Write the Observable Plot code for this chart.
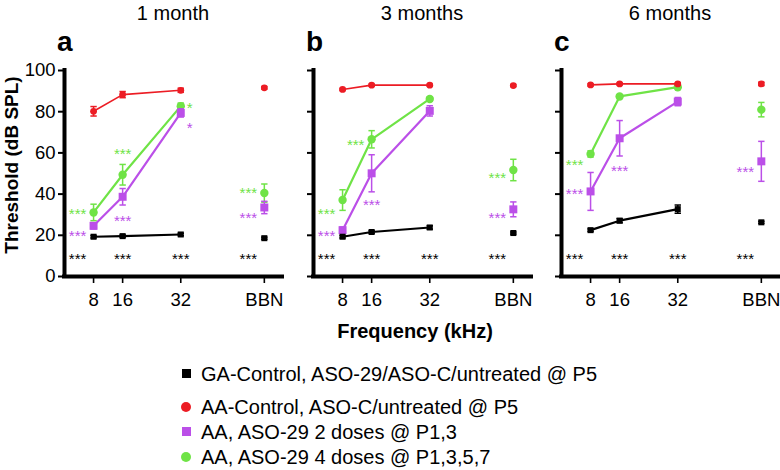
<!DOCTYPE html>
<html><head><meta charset="utf-8">
<script src="https://cdn.jsdelivr.net/npm/d3@7"></script>
<script src="https://cdn.jsdelivr.net/npm/@observablehq/plot@0.6"></script>
<style>
body{margin:0;background:#fff;}
#wrap{position:relative;width:780px;height:470px;overflow:hidden;font-family:"Liberation Sans",Arial,Helvetica,sans-serif;color:#000;}
.abs{position:absolute;white-space:nowrap;line-height:1;}
.panel{position:absolute;top:0;}
</style></head><body>
<div id="wrap"></div>
<script>
// ---------- data ----------
const panelTitles = ["1 month", "3 months", "6 months"];
const panelLetters = ["a", "b", "c"];
const freqKeys = ["8", "16", "32", "BBN"];
const freqPos = [8, 16, 32, 55];
const yTicks = [0, 20, 40, 60, 80, 100];

const seriesKeys = ["ga", "aa", "aso2", "aso4"];
const seriesLabels = [
  "GA-Control, ASO-29/ASO-C/untreated @ P5",
  "AA-Control, ASO-C/untreated @ P5",
  "AA, ASO-29 2 doses @ P1,3",
  "AA, ASO-29 4 doses @ P1,3,5,7"
];
const seriesColors = ["#000000", "#ec1c24", "#bb4fe8", "#6fe346"];
const seriesSymbols = ["square", "circle", "square", "circle"];

// mean thresholds [8, 16, 32, BBN] per panel
const gaMean   = [[19.3, 19.6, 20.4, 18.6], [19.3, 21.6, 23.8, 21.1], [22.5, 27.1, 32.7, 26.3]];
const gaSem    = [[0.6, 0.6, 0.6, 0.5], [0.6, 0.6, 0.8, 0.5], [0.6, 1.0, 2.0, 0.5]];
const aaMean   = [[80.2, 88.3, 90.4, 91.6], [90.8, 92.9, 92.9, 92.7], [93.0, 93.5, 93.5, 93.5]];
const aaSem    = [[2.3, 1.5, 1.0, 0.6], [0.5, 0.5, 0.5, 0.5], [0.5, 0.5, 0.5, 0.8]];
const aso2Mean = [[24.6, 38.7, 79.4, 33.5], [22.5, 50.1, 80.4, 32.6], [41.3, 67.1, 84.9, 55.9]];
const aso2Sem  = [[1.5, 4.0, 2.0, 3.0], [1.5, 9.0, 2.5, 3.6], [9.2, 8.6, 2.0, 9.7]];
const aso4Mean = [[31.1, 49.4, 82.7, 40.5], [37.1, 66.6, 86.2, 51.7], [59.5, 87.4, 91.9, 81.0]];
const aso4Sem  = [[4.0, 5.0, 1.5, 4.4], [5.0, 4.2, 1.0, 5.2], [1.5, 0.8, 0.8, 3.5]];

// significance annotations
const starPanel  = [0,0,0,0, 0,0,0,0, 0,0,0,0, 1,1,1,1, 1,1,1, 1,1,1, 2,2,2,2, 2, 2,2,2];
const starFreq   = ["8","16","32","BBN", "8","16","32","BBN", "8","16","32","BBN",
                    "8","16","32","BBN", "8","16","BBN", "8","16","BBN",
                    "8","16","32","BBN", "8", "8","16","BBN"];
const starLevel  = [10.4,10.4,10.4,10.4, 32.4,61.4,83.6,42.5, 21.4,28.7,74.0,30.3,
                    10.4,10.4,10.4,10.4, 32.4,65.6,49.6, 21.4,36.8,30.3,
                    10.4,10.4,10.4,10.4, 56.2, 42.0,53.3,52.5];
const starText   = ["***","***","***","***", "***","***","*","***", "***","***","*","***",
                    "***","***","***","***", "***","***","***", "***","***","***",
                    "***","***","***","***", "***", "***","***","***"];
const starSeries = ["ga","ga","ga","ga", "aso4","aso4","aso4","aso4", "aso2","aso2","aso2","aso2",
                    "ga","ga","ga","ga", "aso4","aso4","aso4", "aso2","aso2","aso2",
                    "ga","ga","ga","ga", "aso4", "aso2","aso2","aso2"];
const starSide   = ["left","center","center","left", "left","center","right","left", "left","center","right","left",
                    "left","center","center","left", "left","left","left", "left","center","left",
                    "left","center","center","left", "left", "left","center","left"];

// ---------- build tables ----------
const means = {ga: gaMean, aa: aaMean, aso2: aso2Mean, aso4: aso4Mean};
const sems = {ga: gaSem, aa: aaSem, aso2: aso2Sem, aso4: aso4Sem};
const rows = [];
seriesKeys.forEach((s) => {
  panelTitles.forEach((_, p) => {
    freqKeys.forEach((k, i) => {
      const m = means[s][p][i], e = sems[s][p][i];
      rows.push({series: s, panel: p, key: k, x: freqPos[i], y: m, lo: m - e, hi: m + e});
    });
  });
});
const stars = starPanel.map((p, i) => ({
  panel: p, x: freqPos[freqKeys.indexOf(starFreq[i])], y: starLevel[i],
  text: starText[i], series: starSeries[i], side: starSide[i]
}));
const colorOf = (s) => seriesColors[seriesKeys.indexOf(s)];

const capSymbol = {draw(ctx, size) { const w = Math.sqrt(size) / 2; ctx.moveTo(-w, 0); ctx.lineTo(w, 0); }};

const style = {
  ga:   {r: 3.4, lw: 2.2},
  aa:   {r: 3.4, lw: 1.6},
  aso2: {r: 4.5, lw: 2.2},
  aso4: {r: 4.2, lw: 2.2}
};
const drawOrder = ["aso4", "aso2", "ga", "aa"];

function panel(p) {
  const data = rows.filter(d => d.panel === p);
  const marks = [
    Plot.axisY({ticks: yTicks, tickSize: 6, tickPadding: 3, strokeWidth: 2,
      tickFormat: p === 0 ? (d => String(d)) : (() => ""), label: null}),
    Plot.axisX({ticks: freqPos, tickSize: 7, tickPadding: 9, strokeWidth: 1.6,
      tickFormat: d => freqKeys[freqPos.indexOf(d)], label: null}),
    Plot.ruleX([0], {strokeWidth: 4, strokeLinecap: "square"}),
    Plot.ruleY([0], {strokeWidth: 4, strokeLinecap: "square"})
  ];
  for (const s of drawOrder) {
    const d = data.filter(r => r.series === s);
    const c = colorOf(s);
    const sym = seriesSymbols[seriesKeys.indexOf(s)];
    marks.push(
      Plot.line(d.filter(r => r.key !== "BBN"), {x: "x", y: "y", stroke: c, strokeWidth: style[s].lw}),
      Plot.link(d, {x1: "x", x2: "x", y1: "lo", y2: "hi", stroke: c, strokeWidth: 1.5}),
      Plot.dot(d, {x: "x", y: "hi", symbol: capSymbol, r: 3.6, stroke: c, strokeWidth: 1.5, fill: "none"}),
      Plot.dot(d, {x: "x", y: "lo", symbol: capSymbol, r: 3.6, stroke: c, strokeWidth: 1.5, fill: "none"}),
      Plot.dot(d, {x: "x", y: "y", symbol: sym, r: style[s].r, fill: c, stroke: "none"})
    );
  }
  const st = stars.filter(d => d.panel === p);
  for (const side of ["left", "center", "right"]) {
    const dx = side === "left" ? -16 : side === "right" ? 9 : 0;
    marks.push(Plot.text(st.filter(d => d.side === side), {
      x: "x", y: "y", text: "text", fill: d => colorOf(d.series), dx, dy: 4,
      fontSize: 15, textAnchor: "middle"
    }));
  }
  return Plot.plot({
    width: 286, height: 316,
    marginLeft: 64, marginRight: 4, marginTop: 70, marginBottom: 40,
    x: {type: "linear", domain: [0, 60]},
    y: {type: "linear", domain: [0, 100]},
    color: {type: "identity"},
    style: {fontFamily: '"Liberation Sans", Arial, Helvetica, sans-serif', fontSize: "18.5px", color: "#000", background: "none", overflow: "visible"},
    marks
  });
}

const wrap = document.getElementById("wrap");
const panelLeft = [0, 249, 497];
panelTitles.forEach((t, p) => {
  const el = panel(p);
  el.classList.add("panel");
  el.style.left = panelLeft[p] + "px";
  wrap.appendChild(el);
  const title = document.createElement("div");
  title.className = "abs";
  title.textContent = t;
  title.style.cssText += `left:${panelLeft[p] + 173}px;top:3px;font-size:20px;transform:translateX(-50%);`;
  wrap.appendChild(title);
  const letter = document.createElement("div");
  letter.className = "abs";
  letter.textContent = panelLetters[p];
  letter.style.cssText += `left:${panelLeft[p] + 57}px;top:28px;font-size:28px;font-weight:bold;`;
  wrap.appendChild(letter);
});

const ylab = document.createElement("div");
ylab.className = "abs";
ylab.textContent = "Threshold (dB SPL)";
ylab.style.cssText += "left:11px;top:165px;font-size:19px;font-weight:bold;transform:translate(-50%,-50%) rotate(-90deg);";
wrap.appendChild(ylab);

const xlab = document.createElement("div");
xlab.className = "abs";
xlab.textContent = "Frequency (kHz)";
xlab.style.cssText += "left:415px;top:321px;font-size:20px;font-weight:bold;transform:translateX(-50%);";
wrap.appendChild(xlab);

const legendY = [373.5, 407, 431.5, 457];
seriesLabels.forEach((lab, i) => {
  const mk = document.createElement("div");
  mk.className = "abs";
  const sz = seriesSymbols[i] === "square" ? 9 : 10;
  mk.style.cssText += `left:${186 - sz / 2}px;top:${legendY[i] - sz / 2}px;width:${sz}px;height:${sz}px;background:${seriesColors[i]};border-radius:${seriesSymbols[i] === "circle" ? "50%" : "0"};`;
  wrap.appendChild(mk);
  const tx = document.createElement("div");
  tx.className = "abs";
  tx.textContent = lab;
  tx.style.cssText += `left:201px;top:${legendY[i] - 10}px;font-size:20px;`;
  wrap.appendChild(tx);
});
</script>
</body></html>
